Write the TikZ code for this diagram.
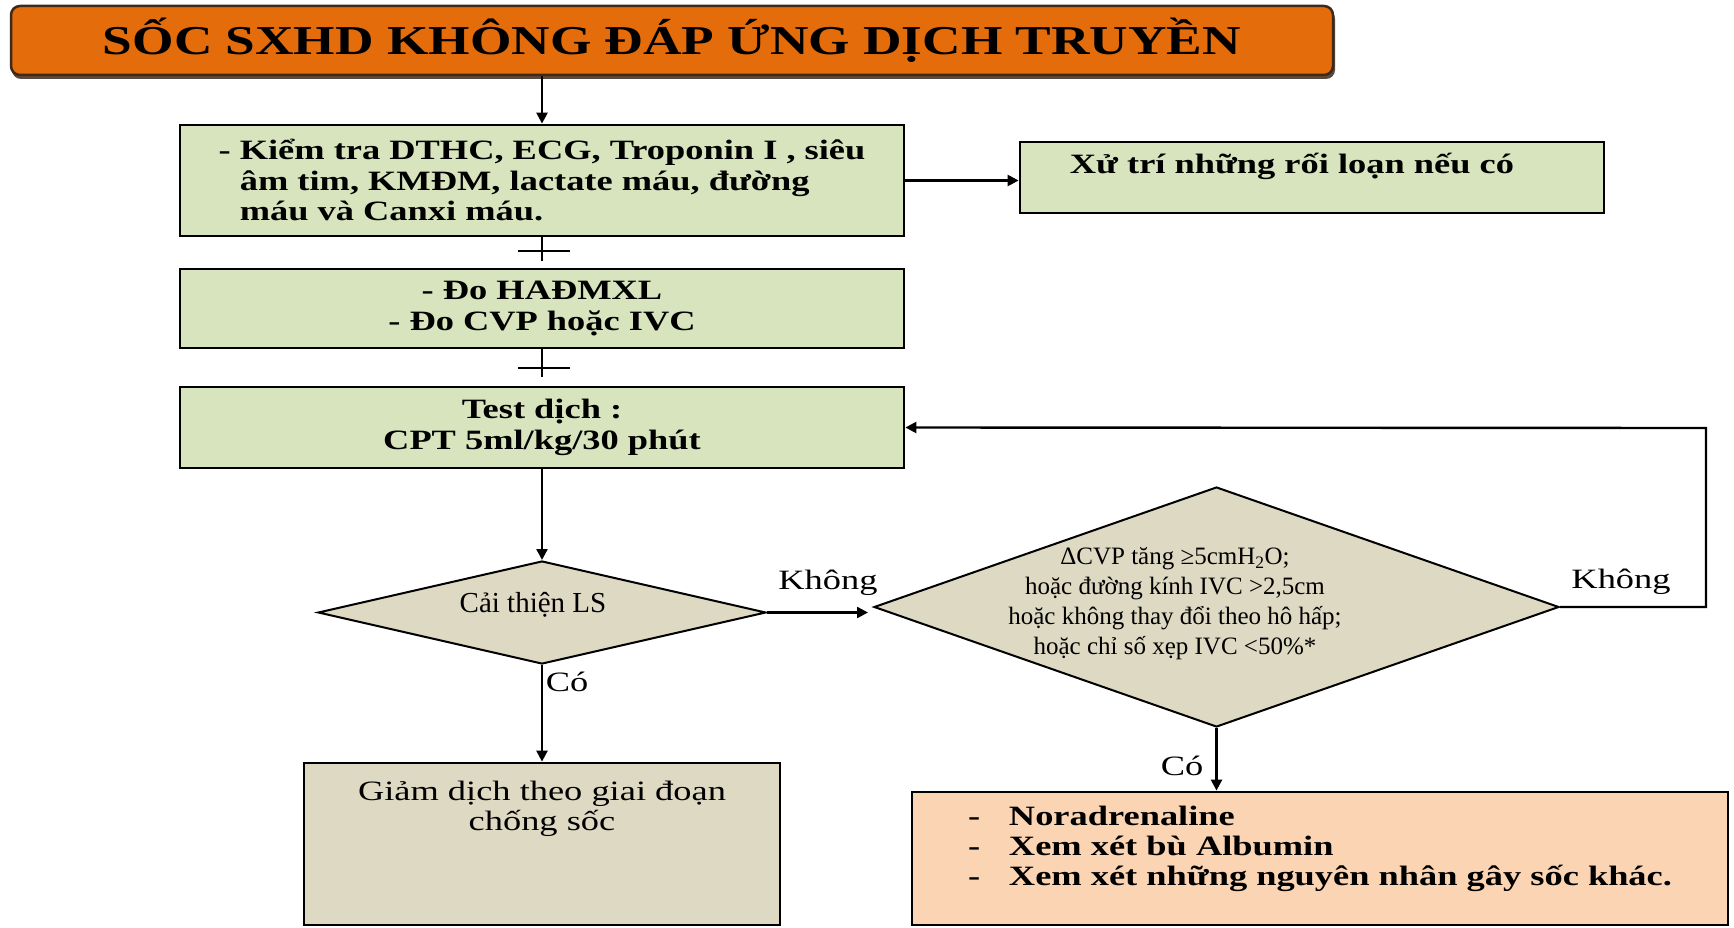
\documentclass[tikz,border=0pt]{standalone}
\usepackage{fontspec}
\setmainfont{Liberation Serif}
\newfontfamily\widefont[FakeStretch=1.3]{Liberation Serif}
\usetikzlibrary{arrows.meta,shapes.geometric}
\definecolor{orangeT}{HTML}{E46C0A}
\definecolor{titleEdge}{HTML}{3D2A1A}
\definecolor{greenbox}{HTML}{D7E4BD}
\definecolor{beige}{HTML}{DDD9C3}
\definecolor{peach}{HTML}{FBD4B4}
\begin{document}
\begin{tikzpicture}[x=1pt,y=-1pt,
  titlebox/.style={rectangle, rounded corners=9pt, fill=orangeT, draw=titleEdge, line width=2.5pt,
    minimum width=1322pt, minimum height=69pt, inner sep=0pt,
    font={\widefont\bfseries\fontsize{41}{45}\selectfont}},
  gbox/.style={rectangle, draw=black, line width=2.8pt, fill=greenbox, inner sep=0pt,
    font={\widefont\bfseries\fontsize{28}{30.5}\selectfont}},
  bbox/.style={rectangle, draw=black, line width=2.8pt, fill=beige, inner sep=0pt,
    font={\widefont\fontsize{28}{30}\selectfont}},
  pbox/.style={rectangle, draw=black, line width=2.8pt, fill=peach, inner sep=0pt,
    font={\widefont\bfseries\fontsize{28}{30}\selectfont}},
  dia/.style={diamond, draw=black, line width=2pt, fill=beige, inner sep=0pt},
  lbl/.style={inner sep=0pt, font={\widefont\fontsize{28}{30}\selectfont}},
  conn/.style={draw=black, line width=2.4pt},
  arr/.style={conn, -{Triangle[length=11pt,width=11pt]}}
]
\useasboundingbox (0,0) rectangle (1734,928);
\fill[white] (0,0) rectangle (1734,928);

% title
\fill[titleEdge!85, rounded corners=9pt] (12,10) rectangle (1335,79);
\node[titlebox] (t) at (672,40.5) {SỐC SXHD KHÔNG ĐÁP ỨNG DỊCH TRUYỀN};

% left column boxes
\node[gbox, minimum width=724pt, minimum height=111pt, align=left] (b1) at (542,180.5)
  {- Kiểm tra DTHC, ECG, Troponin I , siêu\\\hphantom{- }âm tim, KMĐM, lactate máu, đường\\\hphantom{- }máu và Canxi máu.};
\node[gbox, minimum width=724pt, minimum height=79pt, align=center] (b2) at (542,308.5)
  {- Đo HAĐMXL\\- Đo CVP hoặc IVC};
\node[gbox, minimum width=724pt, minimum height=81pt, align=center] (b3) at (542,427.5)
  {Test dịch :\\CPT 5ml/kg/30 phút};
\node[gbox, minimum width=584pt, minimum height=71pt] (b6) at (1312,177.5)
  {\raisebox{11pt}[\height][\depth]{Xử trí những rối loạn nếu có\hspace*{40pt}}};

% diamonds
\node[dia, minimum width=448pt, minimum height=103pt] (d1) at (542,612.5) {};
\node[inner sep=0pt, font={\fontsize{29}{32}\selectfont}] (d1t) at (533,605) {Cải thiện LS};
\node[dia, minimum width=685pt, minimum height=240pt] (d2) at (1216.5,607) {};
\node[inner sep=0pt, align=center, font={\fontsize{25}{30}\selectfont}] (d2t) at (1175,604)
  {ΔCVP tăng ≥5cmH\textsubscript{2}O;\\hoặc đường kính IVC >2,5cm\\hoặc không thay đổi theo hô hấp;\\hoặc chỉ số xẹp IVC <50\%*};

% bottom boxes
\node[bbox, minimum width=476pt, minimum height=162pt] (b4) at (542,844)
  {\raisebox{35pt}[\height][\depth]{\begin{tabular}{@{}c@{}}Giảm dịch theo giai đoạn\\chống sốc\end{tabular}}};
\node[pbox, minimum width=816pt, minimum height=133pt] (b5) at (1320,858.5)
  {\raisebox{9pt}[\height][\depth]{\begin{tabular}{@{}l@{}}\makebox[41pt][l]{-}Noradrenaline\\\makebox[41pt][l]{-}Xem xét bù Albumin\\\makebox[41pt][l]{-}Xem xét những nguyên nhân gây sốc khác.\end{tabular}}};

% connectors
\draw[arr] (t.south -| b1.north) -- (b1.north);
\draw[arr] (b1.east) -- (b1.east -| b6.west);
\draw[conn, shorten >=7pt] (b1.south) -- (b2.north);
\coordinate (m1) at (544,251);
\draw[conn] ([xshift=-26pt]m1) -- ([xshift=26pt]m1);
\draw[conn, shorten >=9pt] (b2.south) -- (b3.north);
\coordinate (m2) at (544,368);
\draw[conn] ([xshift=-26pt]m2) -- ([xshift=26pt]m2);
\draw[arr] (b3.south) -- (d1.north);
\draw[arr, shorten >=5pt] (d1.east) -- (d1.east -| d2.west);
\draw[arr] (d1.south) -- (b4.north);
\draw[arr] (d2.south) -- (d2.south |- b5.north);
\coordinate (cr) at (1706,428);
\draw[arr] (d2.east) -| (cr) -- (b3.east);

% labels
\node[lbl] (k1) at (828,583) {Không};
\node[lbl] (c1) at (567,682) {Có};
\node[lbl] (c2) at (1182,766) {Có};
\node[lbl] (k2) at (1621,582) {Không};
\end{tikzpicture}
\end{document}
